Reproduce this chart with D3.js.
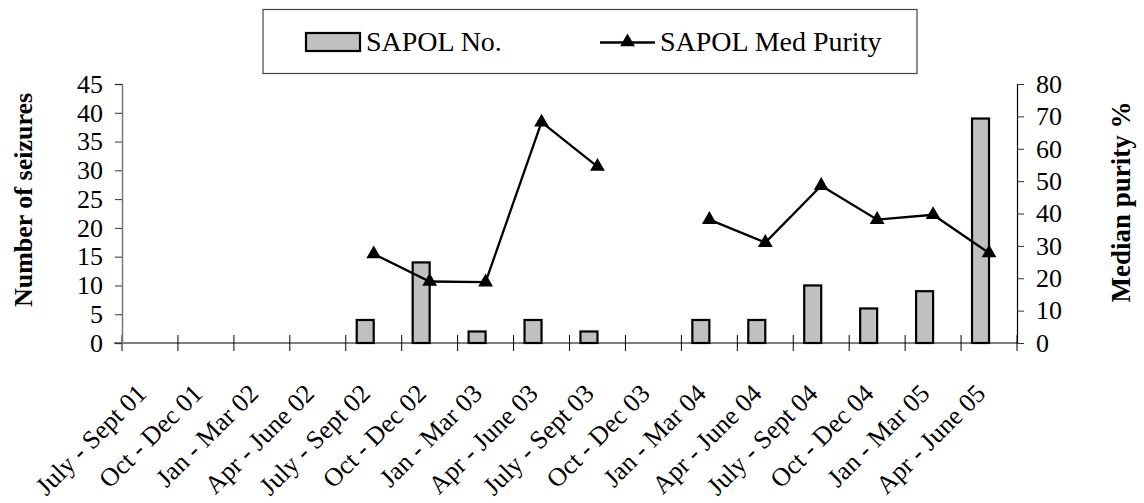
<!DOCTYPE html>
<html>
<head>
<meta charset="utf-8">
<script src="https://cdn.jsdelivr.net/npm/d3@7"></script>
<style>
  html, body { margin: 0; padding: 0; background: #fff; }
  svg { display: block; }
</style>
</head>
<body>
<svg id="chart" width="1144" height="503"></svg>
<script>
// Quarterly periods
const quarters = [
  "July - Sept 01", "Oct - Dec 01", "Jan - Mar 02", "Apr - June 02",
  "July - Sept 02", "Oct - Dec 02", "Jan - Mar 03", "Apr - June 03",
  "July - Sept 03", "Oct - Dec 03", "Jan - Mar 04", "Apr - June 04",
  "July - Sept 04", "Oct - Dec 04", "Jan - Mar 05", "Apr - June 05"
];
// Number of seizures (left axis); null = no seizures recorded
const seizures = [null, null, null, null, 4, 14, 2, 4, 2, null, 4, 4, 10, 6, 9, 39];
// Median purity % (right axis); null = no value
const medPurity = [null, null, null, null, 27.5, 19, 18.8, 68.2, 54.5, null, 38.1, 31, 48.6, 38.1, 39.6, 27.8];
// Axis ticks
const leftTicks = [0, 5, 10, 15, 20, 25, 30, 35, 40, 45];
const rightTicks = [0, 10, 20, 30, 40, 50, 60, 70, 80];

const FONT = "'Liberation Serif', 'Times New Roman', Times, Tinos, 'DejaVu Serif', 'Noto Serif', serif";

const svg = d3.select("#chart");
const plot = { left: 122, right: 1017, top: 84, bottom: 343 };

const x = d3.scaleBand().domain(quarters).range([plot.left, plot.right]).padding(0);
const yL = d3.scaleLinear().domain([0, 45]).range([plot.bottom, plot.top]);
const yR = d3.scaleLinear().domain([0, 80]).range([plot.bottom, plot.top]);
const barW = 17;
const cx = q => x(q) + x.bandwidth() / 2;

// Bars: sit just left of each category centre
svg.append("g").selectAll("rect")
  .data(quarters.map((q, i) => ({ q, v: seizures[i] })).filter(d => d.v != null))
  .join("rect")
  .attr("x", d => cx(d.q) - barW)
  .attr("y", d => yL(d.v))
  .attr("width", barW)
  .attr("height", d => yL(0) - yL(d.v))
  .attr("fill", "#c0c0c0")
  .attr("stroke", "#000")
  .attr("stroke-width", 2.2);

// X axis: baseline with boundary ticks crossing it
const xAxis = svg.append("g");
xAxis.append("line")
  .attr("x1", plot.left - 8).attr("x2", plot.right)
  .attr("y1", plot.bottom).attr("y2", plot.bottom)
  .attr("stroke", "#000").attr("stroke-width", 1.2);
const bounds = quarters.map(q => x(q)).concat([plot.right]);
xAxis.selectAll("line.tick").data(bounds).join("line")
  .attr("class", "tick")
  .attr("x1", d => d).attr("x2", d => d)
  .attr("y1", plot.bottom - 8).attr("y2", plot.bottom + 8)
  .attr("stroke", "#000").attr("stroke-width", 1);
xAxis.selectAll("text").data(quarters).join("text")
  .attr("transform", q => `translate(${cx(q) - 2},${plot.bottom + 52}) rotate(-45)`)
  .attr("text-anchor", "end")
  .style("font-family", FONT)
  .style("font-size", "26px")
  .text(q => q);

// Left axis
const gL = svg.append("g").attr("transform", `translate(${plot.left},0)`)
  .call(d3.axisLeft(yL).tickValues(leftTicks).tickSize(7).tickPadding(12));
gL.select(".domain").attr("stroke", "#777").attr("stroke-width", 1.5);
gL.selectAll(".tick line").attr("stroke", "#333");
gL.selectAll(".tick text").style("font-family", FONT).style("font-size", "26px");

// Right axis
const gR = svg.append("g").attr("transform", `translate(${plot.right},0)`)
  .call(d3.axisRight(yR).tickValues(rightTicks).tickSize(7).tickPadding(12));
gR.select(".domain").attr("stroke", "#000").attr("stroke-width", 1.2);
gR.selectAll(".tick line").attr("stroke", "#333");
gR.selectAll(".tick text").style("font-family", FONT).style("font-size", "26px");

// Median purity line (broken where there is no value)
const pts = quarters.map((q, i) => ({ q, v: medPurity[i] }));
svg.append("path")
  .datum(pts)
  .attr("fill", "none")
  .attr("stroke", "#000")
  .attr("stroke-width", 2.3)
  .attr("d", d3.line().defined(d => d.v != null).x(d => cx(d.q)).y(d => yR(d.v)));

const tri = d3.symbol().type(d3.symbolTriangle).size(95);
svg.append("g").selectAll("path")
  .data(pts.filter(d => d.v != null))
  .join("path")
  .attr("transform", d => `translate(${cx(d.q)},${yR(d.v)})`)
  .attr("d", tri)
  .attr("fill", "#000");

// Axis titles
svg.append("text")
  .attr("transform", "translate(32,200) rotate(-90)")
  .attr("text-anchor", "middle")
  .style("font-family", FONT)
  .style("font-size", "26px").style("font-weight", "bold")
  .text("Number of seizures");
svg.append("text")
  .attr("transform", "translate(1130,202) rotate(-90)")
  .attr("text-anchor", "middle")
  .style("font-family", FONT)
  .style("font-size", "27px").style("font-weight", "bold")
  .text("Median purity %");

// Legend
const lg = svg.append("g");
lg.append("rect")
  .attr("x", 263).attr("y", 9.5).attr("width", 654).attr("height", 64)
  .attr("fill", "#fff").attr("stroke", "#444").attr("stroke-width", 1.2);
lg.append("rect")
  .attr("x", 306).attr("y", 33).attr("width", 54).attr("height", 18)
  .attr("fill", "#c0c0c0").attr("stroke", "#000").attr("stroke-width", 2.2);
lg.append("text").attr("x", 366).attr("y", 51)
  .style("font-family", FONT).style("font-size", "28px").text("SAPOL No.");
lg.append("line")
  .attr("x1", 600).attr("x2", 655).attr("y1", 42.5).attr("y2", 42.5)
  .attr("stroke", "#000").attr("stroke-width", 2.3);
lg.append("path").attr("transform", "translate(627.5,42)").attr("d", tri).attr("fill", "#000");
lg.append("text").attr("x", 660).attr("y", 51)
  .style("font-family", FONT).style("font-size", "28px").text("SAPOL Med Purity");
</script>
</body>
</html>
